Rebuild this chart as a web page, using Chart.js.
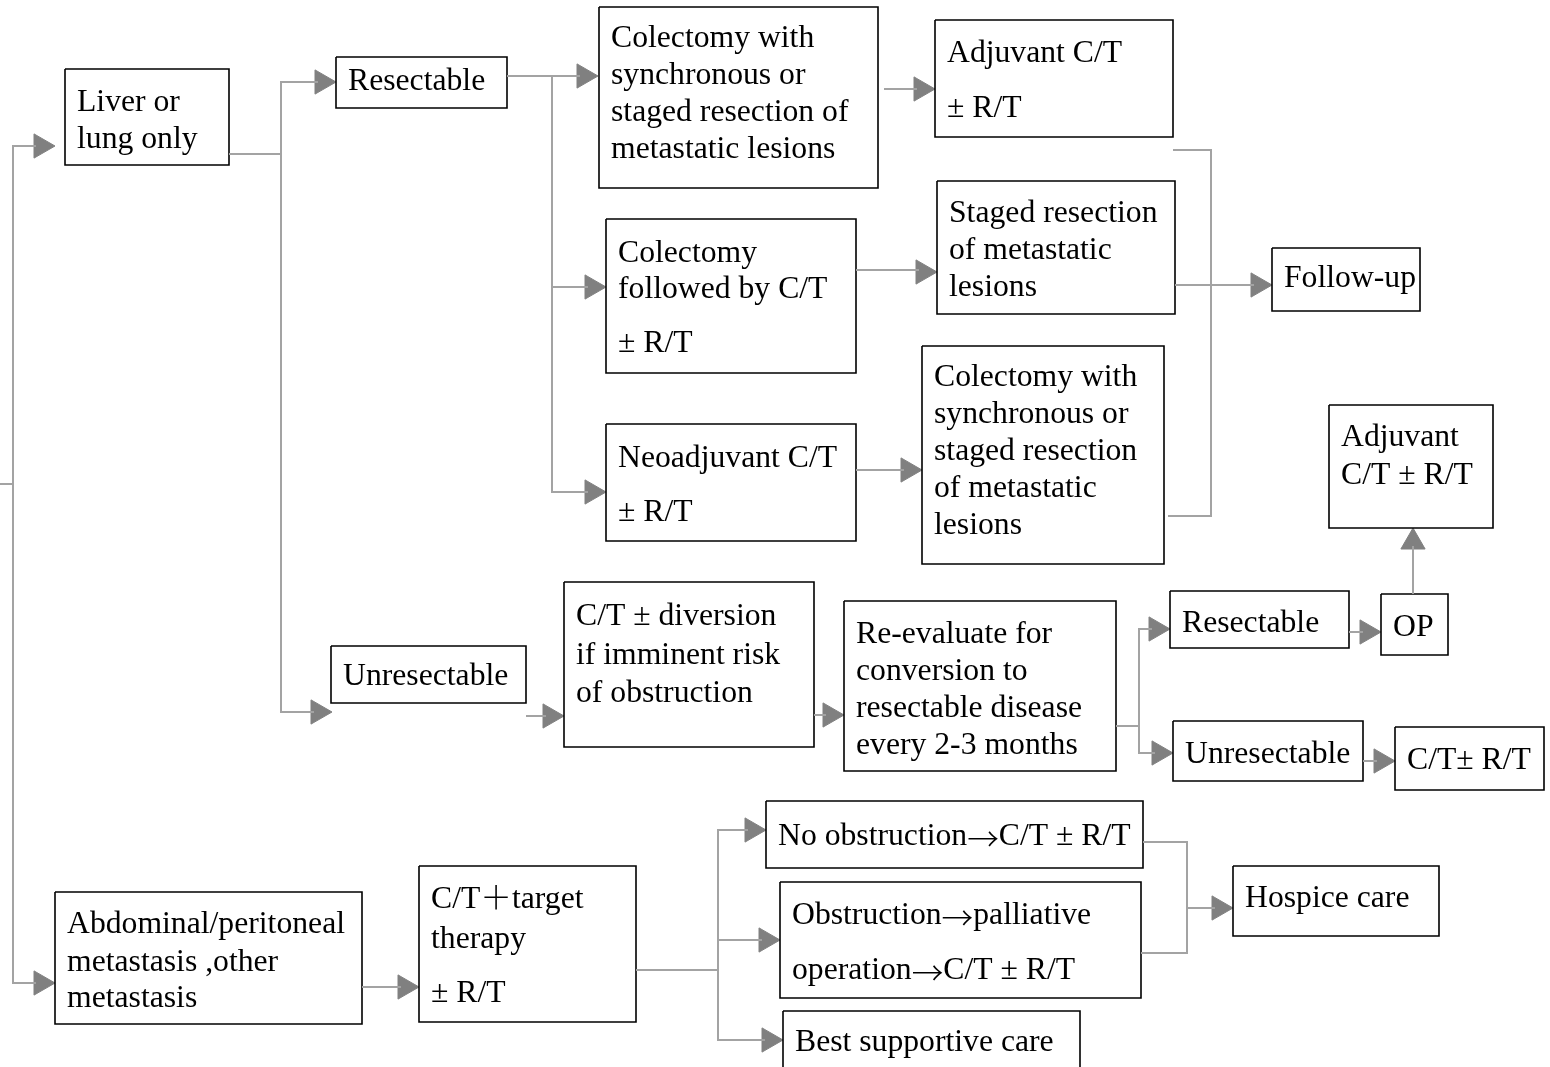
<!DOCTYPE html>
<html>
<head>
<meta charset="utf-8">
<title>Treatment flow</title>
<script src="https://cdn.jsdelivr.net/npm/chart.js@4.4.1/dist/chart.umd.min.js"></script>
<style>
  html, body { margin: 0; padding: 0; background: #fff; overflow: hidden; }
  #wrap { width: 1550px; height: 1067px; }
</style>
</head>
<body>
<div id="wrap"><canvas id="flow" width="1550" height="1067"></canvas></div>
<script>
// ── DIAGRAM DATA ───────────────────────────────────────────────────────────
// One value unit on each axis = one pixel of the 1550 x 1067 reference.

const NODE_LABELS = [
  ['Liver or', 'lung only'],
  ['Resectable'],
  ['Colectomy with', 'synchronous or', 'staged resection of', 'metastatic lesions'],
  ['Adjuvant C/T', '± R/T'],
  ['Colectomy', 'followed by C/T', '± R/T'],
  ['Staged resection', 'of metastatic', 'lesions'],
  ['Follow-up'],
  ['Neoadjuvant C/T', '± R/T'],
  ['Colectomy with', 'synchronous or', 'staged resection', 'of metastatic', 'lesions'],
  ['Adjuvant', 'C/T ± R/T'],
  ['Unresectable'],
  ['C/T ± diversion', 'if imminent risk', 'of obstruction'],
  ['Re-evaluate for', 'conversion to', 'resectable disease', 'every 2-3 months'],
  ['Resectable'],
  ['OP'],
  ['Unresectable'],
  ['C/T± R/T'],
  ['No obstruction→C/T ± R/T'],
  ['Obstruction→palliative', 'operation→C/T ± R/T'],
  ['Best supportive care'],
  ['Hospice care'],
  ['Abdominal/peritoneal', 'metastasis ,other', 'metastasis'],
  ['C/T＋target', 'therapy', '± R/T'],
];

// box extents [left, top, right, bottom]
const NODE_BOXES = [
  [65, 69, 229, 165],
  [336, 57, 507, 108],
  [599, 7, 878, 188],
  [935, 20, 1173, 137],
  [606, 219, 856, 373],
  [937, 181, 1175, 314],
  [1272, 248, 1420, 311],
  [606, 424, 856, 541],
  [922, 346, 1164, 564],
  [1329, 405, 1493, 528],
  [331, 646, 526, 703],
  [564, 582, 814, 747],
  [844, 601, 1116, 771],
  [1170, 591, 1349, 648],
  [1381, 594, 1448, 655],
  [1173, 721, 1363, 781],
  [1395, 727, 1544, 790],
  [766, 801, 1143, 868],
  [780, 882, 1141, 998],
  [783, 1011, 1080, 1070],
  [1233, 866, 1439, 936],
  [55, 892, 362, 1024],
  [419, 866, 636, 1022],
];

// text baselines of every label line
const NODE_BASELINES = [
  [111, 148],
  [90],
  [47, 84, 121, 158],
  [62, 117],
  [262, 298, 352],
  [222, 259, 296],
  [287],
  [467, 521],
  [386, 423, 460, 497, 534],
  [446, 484],
  [685],
  [625, 664, 702],
  [643, 680, 717, 754],
  [632],
  [636],
  [763],
  [769],
  [845],
  [924, 979],
  [1051],
  [907],
  [933, 971, 1007],
  [908, 948, 1002],
];

// connector polylines
const LINKS = [
  [[0, 484], [13, 484]],
  [[36, 146], [13, 146], [13, 983], [36, 983]],
  [[229, 154], [281, 154]],
  [[318, 82], [281, 82], [281, 712], [314, 712]],
  [[507, 76], [580, 76]],
  [[552, 76], [552, 492], [588, 492]],
  [[552, 287], [588, 287]],
  [[884, 89], [917, 89]],
  [[856, 270], [919, 270]],
  [[856, 470], [904, 470]],
  [[1173, 150], [1211, 150], [1211, 516], [1168, 516]],
  [[1175, 285], [1254, 285]],
  [[526, 716], [546, 716]],
  [[814, 715], [826, 715]],
  [[1116, 726], [1139, 726]],
  [[1152, 629], [1139, 629], [1139, 753], [1155, 753]],
  [[1349, 632], [1363, 632]],
  [[1413, 594], [1413, 546]],
  [[1363, 761], [1377, 761]],
  [[362, 987], [401, 987]],
  [[636, 970], [718, 970]],
  [[748, 830], [718, 830], [718, 1040], [765, 1040]],
  [[718, 940], [762, 940]],
  [[1143, 842], [1187, 842], [1187, 953], [1141, 953]],
  [[1187, 908], [1215, 908]],
];

// arrow tips [x, y] and the way they point
const ARROW_TIPS = [
  [55, 146], [55, 983], [336, 82], [332, 712], [598, 76], [606, 287],
  [606, 492], [935, 89], [937, 272], [922, 470], [1272, 285], [564, 716],
  [844, 715], [1170, 629], [1173, 753], [1381, 632], [1413, 528], [1395, 761],
  [419, 987], [766, 830], [780, 940], [783, 1040], [1233, 908],
];
const ARROW_DIRS = [
  'r', 'r', 'r', 'r', 'r', 'r',
  'r', 'r', 'r', 'r', 'r', 'r',
  'r', 'r', 'r', 'r', 'u', 'r',
  'r', 'r', 'r', 'r', 'r',
];

// ── STYLE ──────────────────────────────────────────────────────────────────

const FLOW_COLORS = {
  box:   '#000000',
  link:  '#a3a3a3',
  arrow: '#808080',
  text:  '#000000',
};
const ARROW_R     = 14;
const TEXT_PAD    = 12;
const TEXT_SQUASH = 0.99;   // reference glyphs are a touch narrower than Liberation Serif
const FONT        = '32px "Liberation Serif", "Times New Roman", serif';
const FONT_WIDE   = '200 32px "Noto Sans CJK SC", sans-serif';
const WIDE_SHIFT  = { '→': 6, '＋': 1 };   // drop full-width symbols onto the serif x-height

// ── DATASETS ───────────────────────────────────────────────────────────────

function boxDataset(b) {
  const [l, t, r, btm] = b;
  return {
    data: [{ x: l, y: t }, { x: r, y: t }, { x: r, y: btm }, { x: l, y: btm }, { x: l, y: t }],
    showLine: true,
    borderColor: FLOW_COLORS.box,
    borderWidth: 1.6,
    borderJoinStyle: 'miter',
    pointRadius: 0,
    tension: 0,
  };
}

function linkDataset(path) {
  return {
    data: path.map(([x, y]) => ({ x, y })),
    showLine: true,
    borderColor: FLOW_COLORS.link,
    borderWidth: 2,
    borderJoinStyle: 'miter',
    pointRadius: 0,
    tension: 0,
  };
}

const arrowDataset = {
  data: ARROW_TIPS.map(([x, y], i) => ARROW_DIRS[i] === 'u'
    ? { x, y: y + ARROW_R }
    : { x: x - ARROW_R, y }),
  showLine: false,
  pointStyle: 'triangle',
  pointRadius: ARROW_R,
  pointRotation: ARROW_DIRS.map(d => d === 'u' ? 0 : 90),
  pointBackgroundColor: FLOW_COLORS.arrow,
  pointBorderColor: FLOW_COLORS.arrow,
  pointBorderWidth: 1,
};

// ── LABEL PLUGIN ───────────────────────────────────────────────────────────

// draw one line, switching to the CJK font for full-width symbols
function drawLine(ctx, text, x0, yBase) {
  ctx.save();
  ctx.translate(x0, yBase);
  ctx.scale(TEXT_SQUASH, 1);
  let cx = 0;
  let run = '';
  const flush = () => {
    if (!run) return;
    ctx.font = FONT;
    ctx.fillText(run, cx, 0);
    cx += ctx.measureText(run).width;
    run = '';
  };
  for (const ch of text) {
    if (ch in WIDE_SHIFT) {
      flush();
      ctx.font = FONT_WIDE;
      ctx.fillText(ch, cx, WIDE_SHIFT[ch]);
      cx += ctx.measureText(ch).width;
    } else {
      run += ch;
    }
  }
  flush();
  ctx.restore();
}

const nodeLabels = {
  id: 'nodeLabels',
  afterDatasetsDraw(chart) {
    const { ctx, scales: { x, y } } = chart;
    ctx.save();
    ctx.fillStyle = FLOW_COLORS.text;
    ctx.textAlign = 'left';
    ctx.textBaseline = 'alphabetic';
    NODE_LABELS.forEach((lines, i) => {
      const left = x.getPixelForValue(NODE_BOXES[i][0] + TEXT_PAD);
      lines.forEach((t, j) => drawLine(ctx, t, left, y.getPixelForValue(NODE_BASELINES[i][j])));
    });
    ctx.restore();
  },
};

// ── CHART ──────────────────────────────────────────────────────────────────

new Chart(document.getElementById('flow'), {
  type: 'scatter',
  data: {
    datasets: [
      ...LINKS.map(linkDataset),
      ...NODE_BOXES.map(boxDataset),
      arrowDataset,
    ],
  },
  options: {
    responsive: false,
    animation: false,
    events: [],
    layout: { padding: 0, autoPadding: false },
    plugins: {
      legend:  { display: false },
      tooltip: { enabled: false },
    },
    scales: {
      x: { type: 'linear', min: 0, max: 1550, display: false },
      y: { type: 'linear', min: 0, max: 1067, reverse: true, display: false },
    },
  },
  plugins: [nodeLabels],
});
</script>
</body>
</html>
